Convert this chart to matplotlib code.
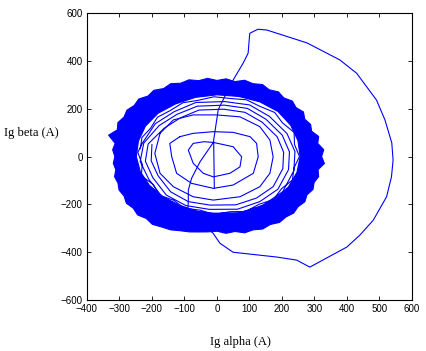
import numpy as np
import matplotlib
matplotlib.use("Agg")
import matplotlib.pyplot as plt
from matplotlib.path import Path
from matplotlib.patches import PathPatch

# start-up transient (big excursion)
trans_x = [-8, -10, 4, 9, 50, 81, 96, 101, 126, 153, 277, 378, 430, 461, 491, 517, 538, 542,
           537, 522, 481, 440, 400, 286, 255, 246, 184, 50, 40, 9, -12, -30, -90, -88, -88,
           -78, -52, -11]
trans_y = [-133, 69, 195, 210, 320, 391, 432, 515, 532, 529, 475, 404, 348, 291, 236, 153, 57, -15,
           -85, -168, -266, -328, -378, -462, -440, -433, -420, -400, -391, -362, -320, -300, -238, -182, -140,
           -91, -22, 59]

# inner spiral loops
loop1_x = [-11, 50, 76, 71, 40, -11, -42, -73, -88, -73, -40, -11]
loop1_y = [59, 41, -1, -43, -70, -85, -70, -28, 27, 55, 62, 59]
loop2_x = [-114, -73, -11, 50, 102, 122, 127, 112, 50, -11, -78, -124, -139, -145, -114]
loop2_y = [83, 97, 104, 101, 83, 55, -1, -70, -119, -133, -112, -70, -1, 55, 83]
loop3_x = [-175, -134, -73, -1, 71, 132, 163, 173, 163, 132, 71, -11, -73, -134, -175, -191, -175]
loop3_y = [97, 153, 174, 174, 166, 125, 69, -1, -70, -126, -168, -182, -168, -126, -70, 13, 97]

# thin loops at the inner edge of the steady-state ring (polar: deg, A)
inner_theta = [166, 185, 204, 226, 245, 264, 286, 305, 324, 346, 5, 24, 46, 65, 84, 106, 125, 144,
               166, 185, 204, 226, 245, 264, 286, 305, 324, 346, 5, 24, 46, 65, 84, 106, 125, 144,
               166, 185, 204, 226, 245, 264, 286, 305, 324, 346, 5, 24, 46, 65, 84, 106, 125, 144, 166,
               176, 188, 199, 211, 222, 234, 245, 257, 268, 280, 291, 303, 314, 326, 337, 349,
               0, 12, 23, 35, 46, 58, 69, 81, 92, 104, 115, 127, 138, 150, 161, 172]
inner_r = [206, 203, 198, 205, 208, 204, 210, 212, 214, 209, 206, 203, 200, 204, 199, 202, 197, 201,
           218, 221, 216, 224, 226, 222, 229, 230, 232, 227, 224, 220, 217, 222, 216, 219, 215, 220,
           232, 237, 230, 240, 244, 238, 246, 248, 250, 244, 241, 236, 233, 238, 231, 235, 229, 234, 236,
           244, 232, 246, 228, 240, 226, 238, 230, 242, 234, 246, 238, 250, 240, 252, 242,
           254, 244, 258, 246, 256, 248, 254, 246, 250, 242, 248, 240, 246, 236, 244, 238]

# dense noisy steady-state band: jagged outer edge and inner envelope (polar: deg, A)
outer_theta = [0, 5, 10, 15, 20, 25, 30, 35, 40, 45, 50, 55, 60, 65, 70, 75, 80, 85,
               90, 95, 100, 105, 110, 115, 120, 125, 130, 135, 140, 145, 150, 155, 160, 165, 170, 175,
               180, 185, 190, 195, 200, 205, 210, 215, 220, 225, 230, 235, 240, 245, 250, 255, 260, 265,
               270, 275, 280, 285, 290, 295, 300, 305, 310, 315, 320, 325, 330, 335, 340, 345, 350, 355]
outer_r = [322, 330, 315, 324, 310, 318, 312, 325, 318, 328, 320, 330, 322, 332, 324, 330, 318, 326,
           318, 328, 322, 332, 326, 336, 328, 338, 330, 340, 332, 338, 330, 336, 326, 345, 318, 322,
           314, 320, 316, 326, 324, 332, 330, 340, 336, 345, 338, 346, 340, 338, 330, 326, 320, 316,
           312, 322, 318, 330, 326, 334, 328, 336, 330, 334, 326, 330, 320, 326, 318, 324, 316, 332]
env_theta = [0, 15, 30, 45, 60, 75, 90, 105, 120, 135, 150, 165,
             180, 195, 210, 225, 240, 255, 270, 285, 300, 315, 330, 345]
env_r = [256, 258, 262, 266, 264, 260, 258, 256, 254, 256, 254, 250,
         248, 244, 240, 236, 234, 236, 240, 244, 248, 252, 254, 255]


def polar_xy(theta_deg, r):
    t = np.deg2rad(np.array(theta_deg, dtype=float))
    r = np.array(r, dtype=float)
    return r * np.cos(t), r * np.sin(t)


fig = plt.figure(figsize=(4.26, 3.51), dpi=100)
ax = fig.add_axes([0.204, 0.145, 0.763, 0.818])

blue = "#0000ff"

ox, oy = polar_xy(outer_theta, outer_r)
ex, ey = polar_xy(env_theta, env_r)
outer = np.column_stack([ox, oy])
inner = np.column_stack([ex, ey])[::-1]
verts = np.vstack([outer, outer[:1], inner, inner[:1]])
codes = ([Path.MOVETO] + [Path.LINETO] * (len(outer) - 1) + [Path.CLOSEPOLY]
         + [Path.MOVETO] + [Path.LINETO] * (len(inner) - 1) + [Path.CLOSEPOLY])
ax.add_patch(PathPatch(Path(verts, codes), facecolor=blue, edgecolor=blue, lw=0.8))

ix, iy = polar_xy(inner_theta, inner_r)
ax.plot(ix, iy, color=blue, lw=0.8)
for xs, ys in [(trans_x, trans_y), (loop1_x, loop1_y), (loop2_x, loop2_y), (loop3_x, loop3_y)]:
    ax.plot(xs, ys, color=blue, lw=0.8)

ax.set_xlim(-400, 600)
ax.set_ylim(-600, 600)
ax.set_xticks(np.arange(-400, 601, 100))
ax.set_yticks(np.arange(-600, 601, 200))
ax.tick_params(direction="in", length=3, width=0.6, top=True, right=True, labelsize=7, pad=3)
for lab in ax.get_xticklabels() + ax.get_yticklabels():
    lab.set_family("Liberation Sans")
for sp in ax.spines.values():
    sp.set_linewidth(0.8)

ax.set_xlabel("Ig alpha (A)", family="Liberation Serif", fontsize=9)
ax.xaxis.set_label_coords(0.471, -0.125)
ax.set_ylabel("Ig beta (A)", family="Liberation Serif", fontsize=9, rotation=0, ha="left", va="center")
ax.yaxis.set_label_coords(-0.255, 0.582)

fig.savefig("out.png", dpi=100)
